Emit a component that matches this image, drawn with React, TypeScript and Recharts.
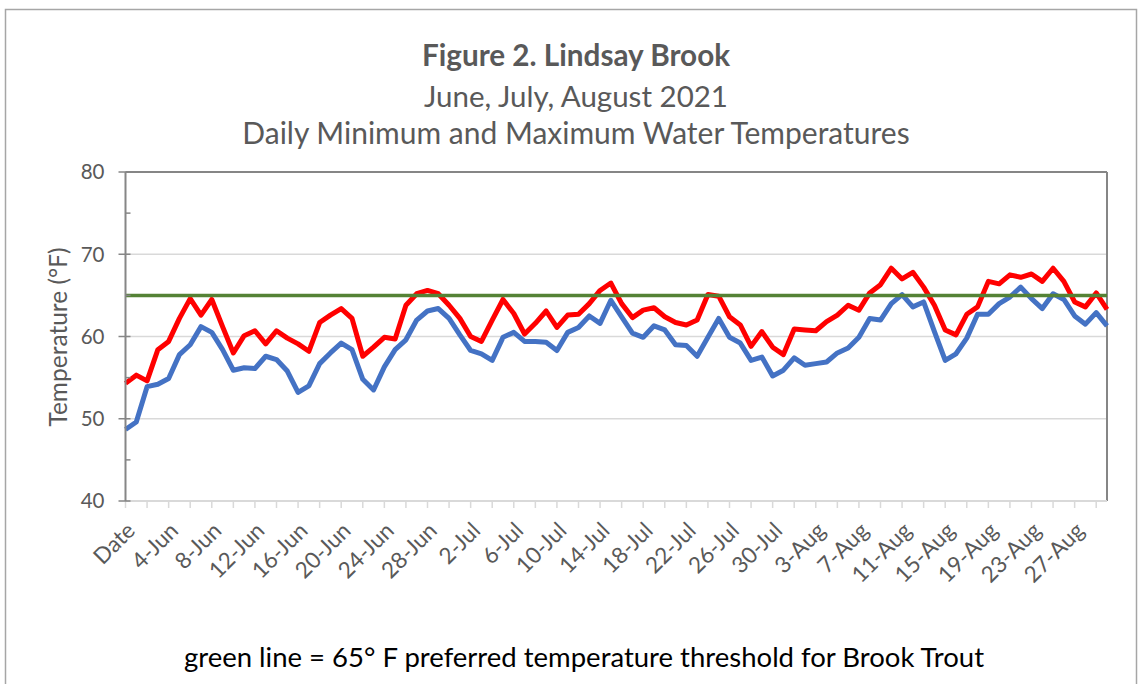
import React from 'react';
import { LineChart, Line, XAxis, YAxis, ReferenceLine } from 'recharts';

// ---- data ----
const MONTHS: [string, number][] = [['Jun', 30], ['Jul', 31], ['Aug', 30]];
const categories: string[] = ['Date'];
for (const [m, n] of MONTHS) for (let d = 1; d <= n; d++) categories.push(`${d}-${m}`);

const minTemps = [
  48.7, 49.6, 53.9, 54.2, 54.9, 57.8, 59.0, 61.2, 60.5, 58.4,
  55.9, 56.2, 56.1, 57.6, 57.2, 55.8, 53.2, 54.0, 56.7, 58.0,
  59.2, 58.4, 54.8, 53.5, 56.3, 58.4, 59.6, 62.0, 63.1, 63.4,
  62.2, 60.2, 58.3, 57.9, 57.1, 59.9, 60.5, 59.4, 59.4, 59.3,
  58.3, 60.5, 61.1, 62.5, 61.6, 64.4, 62.4, 60.4, 59.9, 61.3,
  60.8, 59.0, 58.9, 57.6, 59.9, 62.2, 59.9, 59.2, 57.1, 57.5,
  55.2, 55.9, 57.4, 56.5, 56.7, 56.9, 58.0, 58.6, 59.9, 62.2,
  62.0, 64.0, 65.1, 63.6, 64.2, 60.6, 57.1, 57.9, 59.8, 62.7,
  62.7, 64.0, 64.8, 66.0, 64.6, 63.4, 65.2, 64.5, 62.5, 61.5,
  62.9, 61.3,
];

const maxTemps = [
  54.3, 55.3, 54.6, 58.4, 59.4, 62.2, 64.6, 62.6, 64.5, 61.2,
  58.0, 60.1, 60.7, 59.1, 60.7, 59.8, 59.1, 58.2, 61.7, 62.6,
  63.4, 62.2, 57.6, 58.7, 59.9, 59.7, 63.8, 65.2, 65.6, 65.2,
  63.8, 62.2, 60.0, 59.4, 62.0, 64.5, 62.8, 60.3, 61.6, 63.1,
  61.1, 62.6, 62.7, 64.0, 65.6, 66.5, 64.0, 62.3, 63.2, 63.5,
  62.4, 61.7, 61.4, 62.0, 65.1, 64.9, 62.4, 61.4, 58.8, 60.6,
  58.7, 57.8, 60.9, 60.8, 60.7, 61.8, 62.6, 63.8, 63.2, 65.3,
  66.3, 68.3, 67.0, 67.8, 66.0, 63.8, 60.8, 60.2, 62.7, 63.6,
  66.7, 66.4, 67.5, 67.2, 67.6, 66.7, 68.3, 66.7, 64.2, 63.6,
  65.3, 63.3,
];

const THRESHOLD = 65;
const yTicks = [40, 45, 50, 55, 60, 65, 70, 75, 80];
const gridValues = [50, 60, 70];
const LABEL_EVERY = 4;

const data = categories.map((date, i) => ({
  date,
  min: minTemps[i],
  max: maxTemps[i],
  threshold: THRESHOLD,
}));
const labelSet = new Set(categories.filter((_, i) => i % LABEL_EVERY === 0));

const FONT = 'Lato, "Open Sans", sans-serif';
const TXT = '#595959';
const AXIS = '#868686';
const LIGHT = '#d9d9d9';

const XTick = (props: any) => {
  const { x, y, payload } = props;
  const axisY = y - 8;
  const show = labelSet.has(payload.value);
  const ax = x + 11;
  const ay = axisY + 31;
  return (
    <g>
      <line x1={x} x2={x} y1={axisY} y2={axisY + 7} stroke={LIGHT} strokeWidth={1.5} />
      {show && (
        <text
          x={ax}
          y={ay}
          transform={`rotate(-45 ${ax} ${ay})`}
          textAnchor="end"
          fill={TXT}
          fontSize={22.5}
          fontFamily={FONT}
        >
          {payload.value}
        </text>
      )}
    </g>
  );
};

const YTick = (props: any) => {
  const { x, y, payload } = props;
  const axisX = x + 12;
  const major = payload.value % 10 === 0;
  return (
    <g>
      {major ? (
        <line x1={axisX - 7} x2={axisX + 5} y1={y} y2={y} stroke={AXIS} strokeWidth={1.5} />
      ) : (
        <line x1={axisX} x2={axisX + 5} y1={y} y2={y} stroke={AXIS} strokeWidth={1.5} />
      )}
      {major && (
        <text x={axisX - 21} y={y} dy="0.36em" textAnchor="end" fill={TXT} fontSize={20.5} fontFamily={FONT}>
          {payload.value}
        </text>
      )}
    </g>
  );
};

export default function App() {
  return (
    <div style={{ position: 'absolute', left: 0, top: 0, width: 1140, height: 684, background: '#fff', overflow: 'hidden' }}>
      <svg width={1140} height={684} style={{ position: 'absolute', left: 0, top: 0 }}>
        <rect x={5.5} y={9.5} width={1131} height={700} fill="#fff" stroke="#a6a6a6" strokeWidth={1.5} />
        <text x={576} y={66} textAnchor="middle" fill={TXT} fontSize={29.7} fontWeight="bold" fontFamily={FONT}>
          Figure 2. Lindsay Brook
        </text>
        <text x={576} y={107} textAnchor="middle" fill={TXT} fontSize={29.5} fontFamily={FONT}>
          June, July, August 2021
        </text>
        <text x={576} y={144} textAnchor="middle" fill={TXT} fontSize={30} fontFamily={FONT}>
          Daily Minimum and Maximum Water Temperatures
        </text>
        <text
          x={57}
          y={337}
          transform="rotate(-90 57 337)"
          textAnchor="middle"
          dominantBaseline="central"
          fill={TXT}
          fontSize={24.5}
          fontFamily={FONT}
        >
          Temperature (°F)
        </text>
        <text x={584} y={667} textAnchor="middle" fill="#000" fontSize={27.5} fontFamily={FONT}>
          green line = 65° F preferred temperature threshold for Brook Trout
        </text>
      </svg>
      <div style={{ position: 'absolute', left: 0, top: 0 }}>
        <LineChart width={1140} height={684} data={data} margin={{ top: 172, right: 33, left: 0, bottom: 0 }}>
          {gridValues.map((v) => (
            <ReferenceLine key={v} y={v} stroke={LIGHT} strokeWidth={1.5} />
          ))}
          <ReferenceLine y={80} stroke={AXIS} strokeWidth={2} />
          <ReferenceLine x={categories[categories.length - 1]} stroke={AXIS} strokeWidth={2} />
          <XAxis
            dataKey="date"
            interval={1}
            height={183}
            tickSize={8}
            tickMargin={0}
            tickLine={false}
            axisLine={{ stroke: LIGHT, strokeWidth: 2 }}
            tick={<XTick />}
          />
          <YAxis
            width={125.5}
            domain={[40, 80]}
            ticks={yTicks}
            type="number"
            allowDataOverflow
            tickSize={8}
            tickMargin={4}
            tickLine={false}
            axisLine={{ stroke: AXIS, strokeWidth: 2 }}
            tick={<YTick />}
          />
          <Line dataKey="max" stroke="#ff0000" strokeWidth={5} dot={false} activeDot={false} strokeLinejoin="round" isAnimationActive={false} />
          <Line dataKey="min" stroke="#4472c4" strokeWidth={5} dot={false} activeDot={false} strokeLinejoin="round" isAnimationActive={false} />
          <Line dataKey="threshold" stroke="#548235" strokeWidth={3.5} dot={false} activeDot={false} isAnimationActive={false} />
        </LineChart>
      </div>
    </div>
  );
}
